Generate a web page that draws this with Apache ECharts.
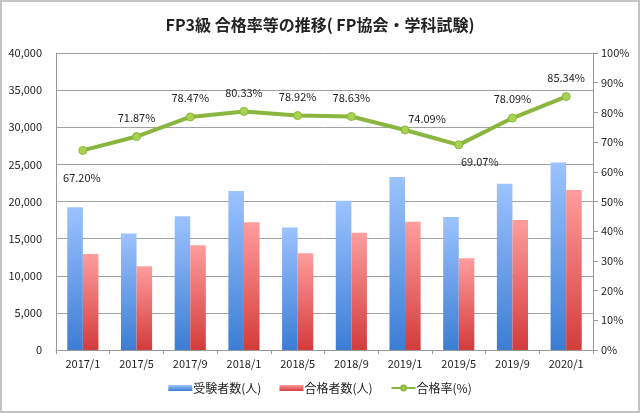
<!DOCTYPE html>
<html><head><meta charset="utf-8">
<script src="https://cdn.jsdelivr.net/npm/echarts@6/dist/echarts.min.js"></script>
<style>html,body{margin:0;padding:0;background:#fff}#c{width:640px;height:413px}</style>
</head><body><div id="c"></div>
<script>
const categories = ['2017/1','2017/5','2017/9','2018/1','2018/5','2018/9','2019/1','2019/5','2019/9','2020/1'];
const examinees = [19240, 15700, 18000, 21400, 16500, 20100, 23300, 17900, 22400, 25250];
const passers = [12930, 11280, 14120, 17200, 13020, 15800, 17270, 12370, 17500, 21550];
const passRate = [67.20, 71.87, 78.47, 80.33, 78.92, 78.63, 74.09, 69.07, 78.09, 85.34];
const rateLabelPos = ['bottom','top','top','top','top','top','topright','bottomright','top','top'];
const leftTicks = [0, 40000, 5000];
const rightTicks = [0, 100, 10];

const font = '"Noto Sans CJK JP","Liberation Sans",sans-serif';
const offsets = {bottom: [-1, 12], top: [0, -4], topright: [22, 4], bottomright: [21, 2]};
const chart = echarts.init(document.getElementById('c'));
chart.setOption({
  animation: false,
  textStyle: {fontFamily: font},
  title: {text: 'FP3級 合格率等の推移( FP協会・学科試験)', left: 'center', top: 12,
    textStyle: {fontSize: 16, fontWeight: 'bold', color: '#222', fontFamily: font}},
  graphic: [{type: 'rect', shape: {x: 1, y: 1, width: 638, height: 411},
    style: {fill: null, stroke: '#c4c4c4', lineWidth: 2}, silent: true}],
  legend: {bottom: 14, left: 'center', itemGap: 18, itemWidth: 24, itemHeight: 6,
    textStyle: {fontSize: 12, color: '#222', padding: [0, 0, 0, -4]},
    data: [{name: '受験者数(人)', icon: 'rect'}, {name: '合格者数(人)', icon: 'rect'}, {name: '合格率(%)'}]},
  grid: {left: 56, right: 47, top: 53, bottom: 63},
  xAxis: {type: 'category', data: categories,
    axisLine: {lineStyle: {color: '#999'}},
    axisTick: {show: true, alignWithLabel: false, length: 4, lineStyle: {color: '#999'}},
    axisLabel: {fontSize: 11, color: '#222', margin: 8}},
  yAxis: [
    {type: 'value', min: leftTicks[0], max: leftTicks[1], interval: leftTicks[2],
      axisLine: {show: true, lineStyle: {color: '#999'}}, axisTick: {show: false},
      axisLabel: {fontSize: 11, color: '#222', margin: 14,
        formatter: v => v.toLocaleString('en-US')},
      splitLine: {lineStyle: {color: '#a0a0a0', width: 1}}},
    {type: 'value', min: rightTicks[0], max: rightTicks[1], interval: rightTicks[2],
      axisLine: {show: true, lineStyle: {color: '#999'}},
      axisTick: {show: true, inside: false, length: 5, lineStyle: {color: '#999'}},
      axisLabel: {fontSize: 11, color: '#222', margin: 8, formatter: '{value}%'},
      splitLine: {show: false}}
  ],
  series: [
    {name: '受験者数(人)', type: 'bar', data: examinees, barWidth: '29%', barGap: '0%',
      itemStyle: {color: new echarts.graphic.LinearGradient(0, 0, 0, 1,
        [{offset: 0, color: '#9cc3ff'}, {offset: 1, color: '#3c7dd4'}])}},
    {name: '合格者数(人)', type: 'bar', data: passers, barWidth: '29%',
      itemStyle: {color: new echarts.graphic.LinearGradient(0, 0, 0, 1,
        [{offset: 0, color: '#ff9d9d'}, {offset: 1, color: '#d43b3b'}])}},
    {name: '合格率(%)', type: 'line', yAxisIndex: 1, symbol: 'circle', symbolSize: 8,
      lineStyle: {color: '#8ab640', width: 4},
      itemStyle: {color: '#a8d34f', borderColor: '#8ab640', borderWidth: 1},
      data: passRate.map((v, i) => ({value: v, label: {
        position: rateLabelPos[i].startsWith('bottom') ? 'bottom' : 'top',
        offset: offsets[rateLabelPos[i]]}})),
      label: {show: true, fontSize: 11, color: '#222', formatter: p => p.value.toFixed(2) + '%'}}
  ]
});
</script></body></html>
